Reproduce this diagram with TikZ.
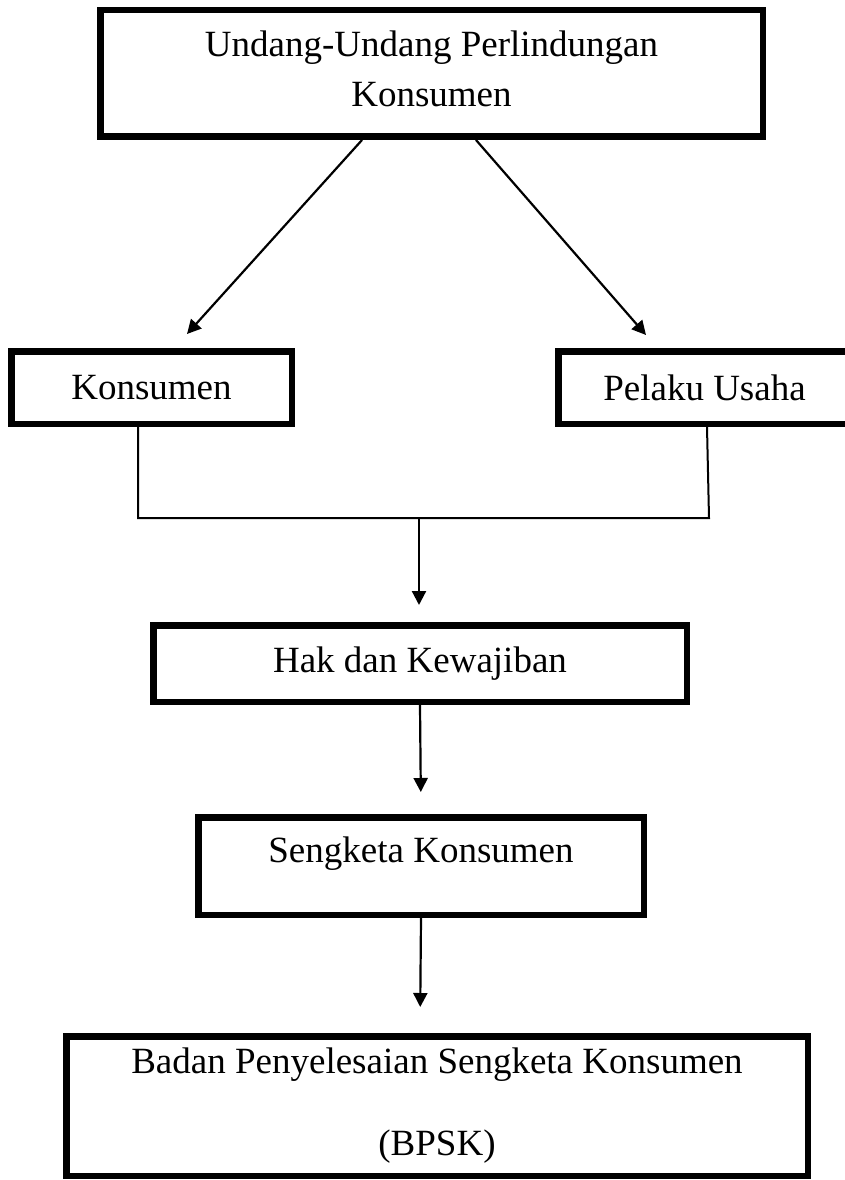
\documentclass[tikz,border=0pt]{standalone}
\usepackage{fontspec}
\setmainfont{Liberation Serif}
\usetikzlibrary{arrows.meta}

\begin{document}
\begin{tikzpicture}[x=1pt,y=-1pt,>={Triangle[length=14pt,width=14pt]},
  box/.style={draw,line width=6.5pt,inner sep=0pt,font=\fontsize{37}{50}\selectfont,align=center},
  arrow/.style={->,line width=2.2pt},
  line/.style={line width=2pt}]
  \useasboundingbox (0,0) rectangle (844,1180);

  \node[box,minimum width=662.5pt,minimum height=126.5pt] (1) at (431.5,73.5) {Undang-Undang Perlindungan\\Konsumen\rule[-10pt]{0pt}{10pt}};
  \node[box,minimum width=280.5pt,minimum height=72.5pt] (2) at (151.5,387.5) {Konsumen};
  \node[box,minimum width=292.5pt,minimum height=72.5pt] (3) at (704.5,387.5) {Pelaku Usaha};
  \node[box,minimum width=533.5pt,minimum height=76.5pt] (4) at (420,663.5) {Hak dan Kewajiban};
  \node[box,minimum width=445.5pt,minimum height=97.5pt,text height=25pt,text depth=32pt] (5) at (421,866) {Sengketa Konsumen};
  \node[box,minimum width=741.5pt,minimum height=139.5pt,font=\fontsize{37}{82}\selectfont] (6) at (437,1106) {Badan Penyelesaian Sengketa Konsumen\\(BPSK)\rule[-6pt]{0pt}{6pt}};

  \coordinate (7) at (138,518);
  \coordinate (8) at (709,518);
  \coordinate (9) at (419,518);

  \draw[line] ([xshift=-13.5pt]2.south) -- (7) -- (8) -- ([xshift=2.5pt]3.south);

  \path[arrow]
    ([xshift=-69.5pt]1.south) edge ([xshift=35.5pt,yshift=14pt]2.north)
    ([xshift=44.5pt]1.south) edge ([xshift=-58.5pt,yshift=13pt]3.north)
    (9) edge[shorten >=17pt] (4.north -| 9)
    (4.south) edge[shorten >=22pt] (5.north)
    (5.south) edge[shorten >=26pt] ([xshift=-17pt]6.north)
    ;
\end{tikzpicture}
\end{document}
